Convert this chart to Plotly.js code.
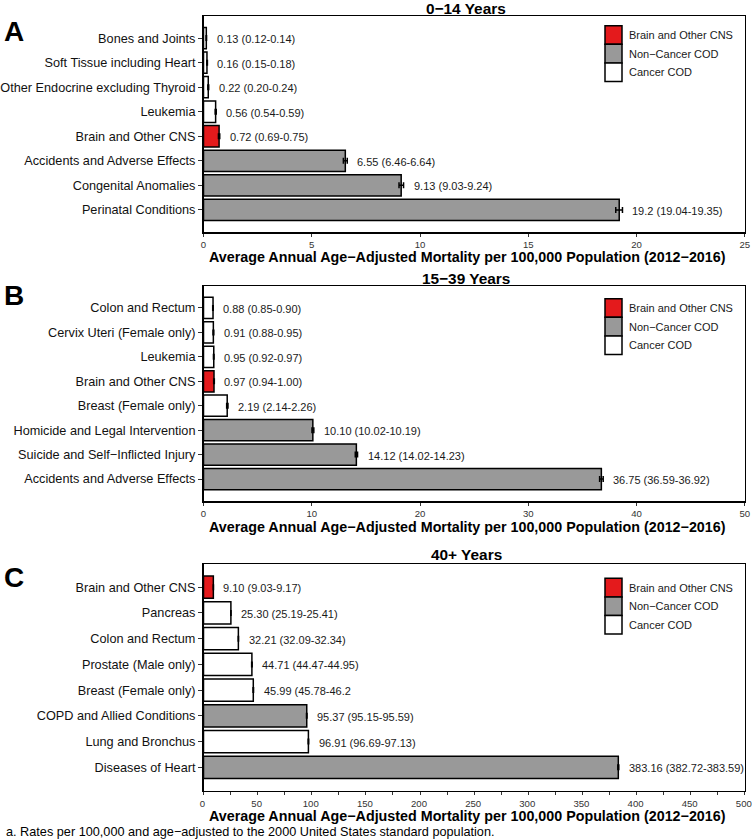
<!DOCTYPE html>
<html><head><meta charset="utf-8">
<script src="https://cdn.plot.ly/plotly-3.0.1.min.js"></script>
<style>html,body{margin:0;padding:0;background:#fff}</style>
</head><body>
<div id="chart" style="width:752px;height:839px"></div>
<script>
// ---------- DATA ----------
const catsA = ["Bones and Joints","Soft Tissue including Heart","Other Endocrine excluding Thyroid","Leukemia","Brain and Other CNS","Accidents and Adverse Effects","Congenital Anomalies","Perinatal Conditions"];
const valsA = [0.13,0.16,0.22,0.56,0.72,6.55,9.13,19.2];
const lowA  = [0.12,0.15,0.20,0.54,0.69,6.46,9.03,19.04];
const upA   = [0.14,0.18,0.24,0.59,0.75,6.64,9.24,19.35];
const typeA = ["cancer","cancer","cancer","cancer","brain","non","non","non"];
const labA  = ["0.13 (0.12-0.14)","0.16 (0.15-0.18)","0.22 (0.20-0.24)","0.56 (0.54-0.59)","0.72 (0.69-0.75)","6.55 (6.46-6.64)","9.13 (9.03-9.24)","19.2 (19.04-19.35)"];

const catsB = ["Colon and Rectum","Cervix Uteri (Female only)","Leukemia","Brain and Other CNS","Breast (Female only)","Homicide and Legal Intervention","Suicide and Self\u2212Inflicted Injury","Accidents and Adverse Effects"];
const valsB = [0.88,0.91,0.95,0.97,2.19,10.10,14.12,36.75];
const lowB  = [0.85,0.88,0.92,0.94,2.14,10.02,14.02,36.59];
const upB   = [0.90,0.95,0.97,1.00,2.26,10.19,14.23,36.92];
const typeB = ["cancer","cancer","cancer","brain","cancer","non","non","non"];
const labB  = ["0.88 (0.85-0.90)","0.91 (0.88-0.95)","0.95 (0.92-0.97)","0.97 (0.94-1.00)","2.19 (2.14-2.26)","10.10 (10.02-10.19)","14.12 (14.02-14.23)","36.75 (36.59-36.92)"];

const catsC = ["Brain and Other CNS","Pancreas","Colon and Rectum","Prostate (Male only)","Breast (Female only)","COPD and Allied Conditions","Lung and Bronchus","Diseases of Heart"];
const valsC = [9.10,25.30,32.21,44.71,45.99,95.37,96.91,383.16];
const lowC  = [9.03,25.19,32.09,44.47,45.78,95.15,96.69,382.72];
const upC   = [9.17,25.41,32.34,44.95,46.2,95.59,97.13,383.59];
const typeC = ["brain","cancer","cancer","cancer","cancer","non","cancer","non"];
const labC  = ["9.10 (9.03-9.17)","25.30 (25.19-25.41)","32.21 (32.09-32.34)","44.71 (44.47-44.95)","45.99 (45.78-46.2","95.37 (95.15-95.59)","96.91 (96.69-97.13)","383.16 (382.72-383.59)"];

const panelTitles = ["0\u221214 Years","15\u221239 Years","40+ Years"];
const panelLetters = ["A","B","C"];
const legendTypes = ["brain","non","cancer"];
const legendLabels = ["Brain and Other CNS","Non\u2212Cancer COD","Cancer COD"];
const xTitle = "Average Annual Age\u2212Adjusted Mortality per 100,000 Population (2012\u22122016)";
const footnote = "a. Rates per 100,000 and age\u2212adjusted to the 2000 United States standard population.";

// ---------- STYLE / GEOMETRY ----------
const W = 752, H = 839;
const FONT = "Liberation Sans, Arial, sans-serif";
const colorOf = {brain:"#E41A1C", non:"#999999", cancer:"#FFFFFF"};
const px = v => v / W;
const py = v => 1 - v / H;
const plotL = 203.5, plotR = 744.8;

const panels = [
  {cats:catsA, vals:valsA, low:lowA, up:upA, type:typeA, lab:labA, top:16,  bot:232, xmax:25,  dtick:5,   minor:null, titleY:9,     letterY:31.7,  legTop:25.7},
  {cats:catsB, vals:valsB, low:lowB, up:upB, type:typeB, lab:labB, top:286, bot:501, xmax:50,  dtick:10,  minor:null, titleY:278.7, letterY:295.3, legTop:298.7},
  {cats:catsC, vals:valsC, low:lowC, up:upC, type:typeC, lab:labC, top:564, bot:790.5, xmax:500, dtick:50, minor:25,  titleY:554,   letterY:577.3, legTop:578.3}
];

const data = [];
const layout = {
  width: W, height: H,
  margin: {l:0, r:0, t:0, b:0},
  paper_bgcolor: "#fff", plot_bgcolor: "#fff",
  showlegend: false,
  font: {family: FONT, color: "#000"},
  annotations: [], shapes: []
};

panels.forEach((p, i) => {
  const sfx = i === 0 ? "" : String(i + 1);
  const xa = "x" + sfx, ya = "y" + sfx;
  data.push({
    type: "bar", orientation: "h", xaxis: xa, yaxis: ya,
    y: p.cats, x: p.vals, width: 0.87,
    marker: {color: p.type.map(t => colorOf[t]), line: {color: "#000", width: 1.5}},
    error_x: {type: "data", symmetric: false,
      array: p.up.map((u, k) => u - p.vals[k]),
      arrayminus: p.low.map((l, k) => p.vals[k] - l),
      color: "#000", thickness: 1.5, width: 3},
    hoverinfo: "x+y"
  });
  const xaxis = {
    domain: [px(plotL), px(plotR)], anchor: ya,
    range: [0, p.xmax], dtick: p.dtick, tick0: 0,
    ticks: "outside", ticklen: 3, tickwidth: 1, tickcolor: "#333",
    ticklabeloverflow: "allow",
    showline: true, mirror: true, linecolor: "#000", linewidth: 1.5,
    showgrid: false, zeroline: false,
    tickfont: {size: 9.6, color: "#333", family: FONT}
  };
  if (p.minor) {
    xaxis.minor = {dtick: p.minor, ticks: "outside", ticklen: 3, tickcolor: "#333", tickwidth: 1, showgrid: false};
    xaxis.ticklabelshift = -1;
  }
  layout["xaxis" + sfx] = xaxis;
  layout["yaxis" + sfx] = {
    domain: [py(p.bot), py(p.top)], anchor: xa,
    type: "category", categoryorder: "array", categoryarray: p.cats,
    range: [p.cats.length - 1 + 0.9, -0.9],
    ticks: "outside", ticklen: 4, tickwidth: 1, tickcolor: "#333",
    showline: true, mirror: true, linecolor: "#000", linewidth: 1.5,
    showgrid: false, zeroline: false,
    tickfont: {size: 12.7, color: "#111", family: FONT}
  };
  // value labels
  p.lab.forEach((t, k) => {
    layout.annotations.push({
      xref: xa, yref: ya, x: p.up[k], y: p.cats[k], text: t,
      xanchor: "left", yanchor: "middle", xshift: 8, yshift: -1, showarrow: false,
      font: {size: 11, color: "#1a1a1a", family: FONT}
    });
  });
  // x-axis title
  layout.annotations.push({xref: "paper", yref: "paper", x: px(467.8), y: py(p.bot + 25.5),
    text: xTitle, showarrow: false, xanchor: "center", yanchor: "middle", borderpad: 0,
    font: {size: 14.3, family: FONT, color: "#000", weight: "bold"}});
  // panel title
  layout.annotations.push({xref: "paper", yref: "paper", x: px(466), y: py(p.titleY),
    text: panelTitles[i], showarrow: false, xanchor: "center", yanchor: "middle", borderpad: 0,
    font: {size: 15.4, family: FONT, color: "#000", weight: "bold"}});
  // panel letter
  layout.annotations.push({xref: "paper", yref: "paper", x: px(13.7), y: py(p.letterY),
    text: panelLetters[i], showarrow: false, xanchor: "center", yanchor: "middle",
    font: {size: 28, family: FONT, color: "#000", weight: "bold"}});
  // legend keys
  const keyH = 18.6;
  legendTypes.forEach((t, k) => {
    const y0 = p.legTop + k * keyH, y1 = y0 + keyH;
    layout.shapes.push({type: "rect", xref: "paper", yref: "paper",
      x0: px(605), x1: px(622), y0: py(y1), y1: py(y0),
      fillcolor: colorOf[t], line: {color: "#000", width: 1.5}});
    layout.annotations.push({xref: "paper", yref: "paper", x: px(626.5), y: py((y0 + y1) / 2),
      text: legendLabels[k], showarrow: false, xanchor: "left", yanchor: "middle",
      font: {size: 11, family: FONT, color: "#1a1a1a"}});
  });
});

layout.annotations.push({xref: "paper", yref: "paper", x: px(5), y: py(831.5),
  text: footnote, showarrow: false, xanchor: "left", yanchor: "middle", borderpad: 0,
  font: {size: 12.7, family: FONT, color: "#000"}});

Plotly.newPlot("chart", data, layout, {displayModeBar: false, staticPlot: true});
</script>
</body></html>
